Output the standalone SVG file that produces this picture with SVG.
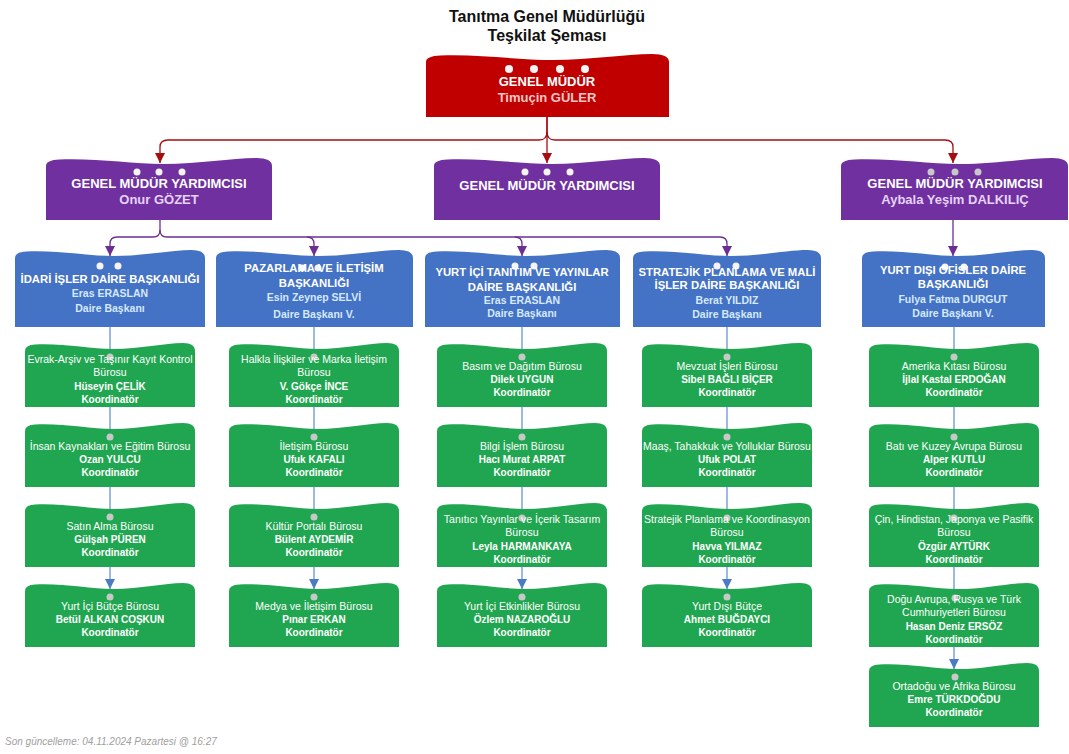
<svg xmlns="http://www.w3.org/2000/svg" xmlns:xlink="http://www.w3.org/1999/xlink" width="1069" height="754" viewBox="0 0 1069 754">
<style>
text{font-family:"Liberation Sans",Arial,sans-serif;text-anchor:middle}
.title{font-size:16px;font-weight:bold;fill:#111}
.gm{fill:#c00000}
.gmy{fill:#7030a0}
.blue{fill:#4472c4}
.green{fill:#20a650}
.t13{font-size:13px;font-weight:bold;fill:#fff}
.t12{font-size:13px;font-weight:bold;fill:#fff}
.pk{fill:#f7c6c6}
.lv{fill:#e6d3f7}
.tb{font-size:10.5px;font-weight:bold;fill:#fff}
.tbt{font-size:11.3px}
.lb{fill:#d5e9ff}
.tg{font-size:10.5px;fill:#fff}
.tgb{font-size:10px;font-weight:bold;fill:#fff}
.dot{fill:#f4f4f4}
.dotg{fill:#c8c8c8}
.cr{fill:none;stroke:#a50d10;stroke-width:1.3}
.cp{fill:none;stroke:#6c2e92;stroke-width:1.3}
.cb{fill:none;stroke:#5b8bd0;stroke-width:1.2}
.foot{font-size:10px;font-style:italic;fill:#a0a0a0;text-anchor:start}
</style>
<defs>
<path id="shGM" d="M0,63 V8 Q0,2 6,1.5 C22,0 38,6 52,6 C68,6 82,0 93,0 Q100,0 100,8 V63 Z"/>
<path id="shGMY" d="M0,62 V8 Q0,2 6,1.5 C22,0 38,6 52,6 C68,6 82,0 93,0 Q100,0 100,8 V62 Z"/>
<path id="shB" d="M0,77 V8 Q0,2 6,1.5 C22,0 38,6 52,6 C68,6 82,0 93,0 Q100,0 100,8 V77 Z"/>
<path id="shG" d="M0,64 V8 Q0,2 6,1.5 C22,0 38,6 52,6 C68,6 82,0 93,0 Q100,0 100,8 V64 Z"/>
<marker id="ar" markerUnits="userSpaceOnUse" markerWidth="10" markerHeight="10" refX="10" refY="5" orient="auto"><path d="M0,0 L10,5 L0,10 Z" fill="#a50d10"/></marker>
<marker id="ap" markerUnits="userSpaceOnUse" markerWidth="10" markerHeight="10" refX="10" refY="5" orient="auto"><path d="M0,0 L10,5 L0,10 Z" fill="#6c2e92"/></marker>
<marker id="ab" markerUnits="userSpaceOnUse" markerWidth="10" markerHeight="10" refX="10" refY="5" orient="auto"><path d="M0,0 L10,5 L0,10 Z" fill="#4a7cc4"/></marker>
</defs>

<text class="title" x="547" y="22">Tanıtma Genel Müdürlüğü</text>
<text class="title" x="547" y="41">Teşkilat Şeması</text>

<g id="connectors">
<path class="cr" d="M547,117 V132 Q547,140 539,140 H168 Q160,140 160,147 V163" marker-end="url(#ar)"/>
<path class="cr" d="M547,132 Q547,140 555,140 H945 Q953,140 953,147 V163" marker-end="url(#ar)"/>
<path class="cr" d="M547,117 V163" marker-end="url(#ar)"/>
<path class="cp" d="M160,220 V230 Q160,237 153,237 H117 Q110,237 110,244 V256" marker-end="url(#ap)"/>
<path class="cp" d="M160,230 Q160,237 167,237 H720 Q727,237 727,244 V256" marker-end="url(#ap)"/>
<path class="cp" d="M307,237 Q314,237 314,244 V256" marker-end="url(#ap)"/>
<path class="cp" d="M515,237 Q522,237 522,244 V256" marker-end="url(#ap)"/>
<path class="cp" d="M953,220 V256" marker-end="url(#ap)"/>
<path class="cb" d="M110,327 V589" marker-end="url(#ab)"/>
<path class="cb" d="M314,327 V589" marker-end="url(#ab)"/>
<path class="cb" d="M522,327 V589" marker-end="url(#ab)"/>
<path class="cb" d="M727,327 V589" marker-end="url(#ab)"/>
<path class="cb" d="M954,327 V669" marker-end="url(#ab)"/>
</g>

<g id="gm">
<use href="#shGM" class="gm" transform="translate(426,54) scale(2.43,1)"/>
<circle class="dot" cx="509" cy="69" r="4"/><circle class="dot" cx="534" cy="69" r="4"/><circle class="dot" cx="560" cy="69" r="4"/><circle class="dot" cx="585" cy="69" r="4"/>
<text class="t13" x="547" y="85.5">GENEL MÜDÜR</text>
<text class="t13 pk" x="547" y="101.5">Timuçin GÜLER</text>
</g>

<g id="gmy1">
<use href="#shGMY" class="gmy" transform="translate(46,158) scale(2.26,1)"/>
<circle class="dot" cx="137" cy="172" r="3.5"/><circle class="dot" cx="159" cy="172" r="3.5"/><circle class="dot" cx="182" cy="172" r="3.5"/>
<text class="t12" x="159" y="188">GENEL MÜDÜR YARDIMCISI</text>
<text class="t12 lv" x="159" y="204">Onur GÖZET</text>
</g>
<g id="gmy2">
<use href="#shGMY" class="gmy" transform="translate(434,158) scale(2.26,1)"/>
<circle class="dot" cx="525" cy="172" r="3.5"/><circle class="dot" cx="547" cy="172" r="3.5"/><circle class="dot" cx="570" cy="172" r="3.5"/>
<text class="t12" x="547" y="190">GENEL MÜDÜR YARDIMCISI</text>
</g>
<g id="gmy3">
<use href="#shGMY" class="gmy" transform="translate(841,158) scale(2.27,1)"/>
<circle class="dotg" cx="931" cy="172" r="3.5"/><circle class="dotg" cx="955" cy="172" r="3.5"/><circle class="dotg" cx="978" cy="172" r="3.5"/>
<text class="t12" x="955" y="188">GENEL MÜDÜR YARDIMCISI</text>
<text class="t12 lv" x="955" y="204">Aybala Yeşim DALKILIÇ</text>
</g>

<g id="db1">
<use href="#shB" class="blue" transform="translate(15,250) scale(1.9,1)"/>
<circle class="dot" cx="100" cy="266" r="3.5"/><circle class="dot" cx="118" cy="266" r="3.5"/>
<text class="tb tbt" x="110" y="283">İDARİ İŞLER DAİRE BAŞKANLIĞI</text>
<text class="tb lb" x="110" y="297">Eras ERASLAN</text>
<text class="tb lb" x="110" y="312">Daire Başkanı</text>
</g>
<g id="db2">
<use href="#shB" class="blue" transform="translate(216,250) scale(1.97,1)"/>
<circle class="dot" cx="302" cy="268" r="3.5"/><circle class="dot" cx="318" cy="268" r="3.5"/>
<text class="tb tbt" x="314" y="272">PAZARLAMA VE İLETİŞİM</text>
<text class="tb tbt" x="314" y="287">BAŞKANLIĞI</text>
<text class="tb lb" x="314" y="301">Esin Zeynep SELVİ</text>
<text class="tb lb" x="314" y="318">Daire Başkanı V.</text>
</g>
<g id="db3">
<use href="#shB" class="blue" transform="translate(425,250) scale(1.95,1)"/>
<circle class="dot" cx="515" cy="266" r="3.5"/><circle class="dot" cx="534" cy="266" r="3.5"/>
<text class="tb tbt" x="522" y="276">YURT İÇİ TANITIM VE YAYINLAR</text>
<text class="tb tbt" x="522" y="291">DAİRE BAŞKANLIĞI</text>
<text class="tb lb" x="522" y="304">Eras ERASLAN</text>
<text class="tb lb" x="522" y="317">Daire Başkanı</text>
</g>
<g id="db4">
<use href="#shB" class="blue" transform="translate(633,250) scale(1.88,1)"/>
<circle class="dot" cx="717" cy="266" r="3.5"/><circle class="dot" cx="736" cy="266" r="3.5"/>
<text class="tb tbt" x="727" y="276">STRATEJİK PLANLAMA VE MALİ</text>
<text class="tb tbt" x="727" y="289">İŞLER DAİRE BAŞKANLIĞI</text>
<text class="tb lb" x="727" y="304">Berat YILDIZ</text>
<text class="tb lb" x="727" y="318">Daire Başkanı</text>
</g>
<g id="db5">
<use href="#shB" class="blue" transform="translate(862,250) scale(1.83,1)"/>
<circle class="dot" cx="945" cy="267" r="3.5"/><circle class="dot" cx="964" cy="267" r="3.5"/>
<text class="tb tbt" x="953" y="274">YURT DIŞI OFİSLER DAİRE</text>
<text class="tb tbt" x="953" y="288">BAŞKANLIĞI</text>
<text class="tb lb" x="953" y="303">Fulya Fatma DURGUT</text>
<text class="tb lb" x="953" y="317">Daire Başkanı V.</text>
</g>

<!-- column 1 -->
<g id="b11"><use href="#shG" class="green" transform="translate(25,343) scale(1.7,1)"/><circle class="dotg" cx="110" cy="357" r="3.5"/>
<text class="tg" x="110" y="362.5">Evrak-Arşiv ve Taşınır Kayıt Kontrol</text><text class="tg" x="110" y="376">Bürosu</text><text class="tgb" x="110" y="389.5">Hüseyin ÇELİK</text><text class="tgb" x="110" y="402.5">Koordinatör</text></g>
<g id="b12"><use href="#shG" class="green" transform="translate(25,423) scale(1.7,1)"/><circle class="dotg" cx="110" cy="437" r="3.5"/>
<text class="tg" x="110" y="450">İnsan Kaynakları ve Eğitim Bürosu</text><text class="tgb" x="110" y="462.5">Ozan YULCU</text><text class="tgb" x="110" y="475.5">Koordinatör</text></g>
<g id="b13"><use href="#shG" class="green" transform="translate(25,503) scale(1.7,1)"/><circle class="dotg" cx="110" cy="517" r="3.5"/>
<text class="tg" x="110" y="530">Satın Alma Bürosu</text><text class="tgb" x="110" y="542.5">Gülşah PÜREN</text><text class="tgb" x="110" y="555.5">Koordinatör</text></g>
<g id="b14"><use href="#shG" class="green" transform="translate(25,583) scale(1.7,1)"/><circle class="dotg" cx="110" cy="597" r="3.5"/>
<text class="tg" x="110" y="610">Yurt İçi Bütçe Bürosu</text><text class="tgb" x="110" y="622.5">Betül ALKAN COŞKUN</text><text class="tgb" x="110" y="635.5">Koordinatör</text></g>

<!-- column 2 -->
<g id="b21"><use href="#shG" class="green" transform="translate(229,343) scale(1.7,1)"/><circle class="dotg" cx="314" cy="357" r="3.5"/>
<text class="tg" x="314" y="362.5">Halkla İlişkiler ve Marka İletişim</text><text class="tg" x="314" y="376">Bürosu</text><text class="tgb" x="314" y="389.5">V. Gökçe İNCE</text><text class="tgb" x="314" y="402.5">Koordinatör</text></g>
<g id="b22"><use href="#shG" class="green" transform="translate(229,423) scale(1.7,1)"/><circle class="dotg" cx="314" cy="437" r="3.5"/>
<text class="tg" x="314" y="450">İletişim Bürosu</text><text class="tgb" x="314" y="462.5">Ufuk KAFALI</text><text class="tgb" x="314" y="475.5">Koordinatör</text></g>
<g id="b23"><use href="#shG" class="green" transform="translate(229,503) scale(1.7,1)"/><circle class="dotg" cx="314" cy="517" r="3.5"/>
<text class="tg" x="314" y="530">Kültür Portalı Bürosu</text><text class="tgb" x="314" y="542.5">Bülent AYDEMİR</text><text class="tgb" x="314" y="555.5">Koordinatör</text></g>
<g id="b24"><use href="#shG" class="green" transform="translate(229,583) scale(1.7,1)"/><circle class="dotg" cx="314" cy="597" r="3.5"/>
<text class="tg" x="314" y="610">Medya ve İletişim Bürosu</text><text class="tgb" x="314" y="622.5">Pınar ERKAN</text><text class="tgb" x="314" y="635.5">Koordinatör</text></g>

<!-- column 3 -->
<g id="b31"><use href="#shG" class="green" transform="translate(437,343) scale(1.7,1)"/><circle class="dotg" cx="522" cy="357" r="3.5"/>
<text class="tg" x="522" y="370">Basım ve Dağıtım Bürosu</text><text class="tgb" x="522" y="382.5">Dilek UYGUN</text><text class="tgb" x="522" y="395.5">Koordinatör</text></g>
<g id="b32"><use href="#shG" class="green" transform="translate(437,423) scale(1.7,1)"/><circle class="dotg" cx="522" cy="437" r="3.5"/>
<text class="tg" x="522" y="450">Bilgi İşlem Bürosu</text><text class="tgb" x="522" y="462.5">Hacı Murat ARPAT</text><text class="tgb" x="522" y="475.5">Koordinatör</text></g>
<g id="b33"><use href="#shG" class="green" transform="translate(437,503) scale(1.7,1)"/><circle class="dotg" cx="522" cy="518" r="3.5"/>
<text class="tg" x="522" y="522.5">Tanıtıcı Yayınlar ve İçerik Tasarım</text><text class="tg" x="522" y="536">Bürosu</text><text class="tgb" x="522" y="549.5">Leyla HARMANKAYA</text><text class="tgb" x="522" y="562.5">Koordinatör</text></g>
<g id="b34"><use href="#shG" class="green" transform="translate(437,583) scale(1.7,1)"/><circle class="dotg" cx="522" cy="597" r="3.5"/>
<text class="tg" x="522" y="610">Yurt İçi Etkinlikler Bürosu</text><text class="tgb" x="522" y="622.5">Özlem NAZAROĞLU</text><text class="tgb" x="522" y="635.5">Koordinatör</text></g>

<!-- column 4 -->
<g id="b41"><use href="#shG" class="green" transform="translate(642,343) scale(1.7,1)"/><circle class="dotg" cx="727" cy="357" r="3.5"/>
<text class="tg" x="727" y="370">Mevzuat İşleri Bürosu</text><text class="tgb" x="727" y="382.5">Sibel BAĞLI BİÇER</text><text class="tgb" x="727" y="395.5">Koordinatör</text></g>
<g id="b42"><use href="#shG" class="green" transform="translate(642,423) scale(1.7,1)"/><circle class="dotg" cx="727" cy="437" r="3.5"/>
<text class="tg" x="727" y="450">Maaş, Tahakkuk ve Yolluklar Bürosu</text><text class="tgb" x="727" y="462.5">Ufuk POLAT</text><text class="tgb" x="727" y="475.5">Koordinatör</text></g>
<g id="b43"><use href="#shG" class="green" transform="translate(642,503) scale(1.7,1)"/><circle class="dotg" cx="727" cy="518" r="3.5"/>
<text class="tg" x="727" y="522.5">Stratejik Planlama ve Koordinasyon</text><text class="tg" x="727" y="536">Bürosu</text><text class="tgb" x="727" y="549.5">Havva YILMAZ</text><text class="tgb" x="727" y="562.5">Koordinatör</text></g>
<g id="b44"><use href="#shG" class="green" transform="translate(642,583) scale(1.7,1)"/><circle class="dotg" cx="727" cy="597" r="3.5"/>
<text class="tg" x="727" y="610">Yurt Dışı Bütçe</text><text class="tgb" x="727" y="622.5">Ahmet BUĞDAYCI</text><text class="tgb" x="727" y="635.5">Koordinatör</text></g>

<!-- column 5 -->
<g id="b51"><use href="#shG" class="green" transform="translate(869,343) scale(1.7,1)"/><circle class="dotg" cx="954" cy="357" r="3.5"/>
<text class="tg" x="954" y="370">Amerika Kıtası Bürosu</text><text class="tgb" x="954" y="382.5">İjlal Kastal ERDOĞAN</text><text class="tgb" x="954" y="395.5">Koordinatör</text></g>
<g id="b52"><use href="#shG" class="green" transform="translate(869,423) scale(1.7,1)"/><circle class="dotg" cx="954" cy="437" r="3.5"/>
<text class="tg" x="954" y="450">Batı ve Kuzey Avrupa Bürosu</text><text class="tgb" x="954" y="462.5">Alper KUTLU</text><text class="tgb" x="954" y="475.5">Koordinatör</text></g>
<g id="b53"><use href="#shG" class="green" transform="translate(869,503) scale(1.7,1)"/><circle class="dotg" cx="954" cy="518" r="3.5"/>
<text class="tg" x="954" y="522.5">Çin, Hindistan, Japonya ve Pasifik</text><text class="tg" x="954" y="536">Bürosu</text><text class="tgb" x="954" y="549.5">Özgür AYTÜRK</text><text class="tgb" x="954" y="562.5">Koordinatör</text></g>
<g id="b54"><use href="#shG" class="green" transform="translate(869,583) scale(1.7,1)"/><circle class="dotg" cx="955" cy="598" r="3.5"/>
<text class="tg" x="954" y="602.5">Doğu Avrupa, Rusya ve Türk</text><text class="tg" x="954" y="616">Cumhuriyetleri Bürosu</text><text class="tgb" x="954" y="629.5">Hasan Deniz ERSÖZ</text><text class="tgb" x="954" y="642.5">Koordinatör</text></g>
<g id="b55"><use href="#shG" class="green" transform="translate(869,663) scale(1.7,1)"/><circle class="dotg" cx="955" cy="677" r="3.5"/>
<text class="tg" x="954" y="690">Ortadoğu ve Afrika Bürosu</text><text class="tgb" x="954" y="702.5">Emre TÜRKDOĞDU</text><text class="tgb" x="954" y="715.5">Koordinatör</text></g>

<text class="foot" x="5" y="745">Son güncelleme: 04.11.2024 Pazartesi @ 16:27</text>
</svg>
